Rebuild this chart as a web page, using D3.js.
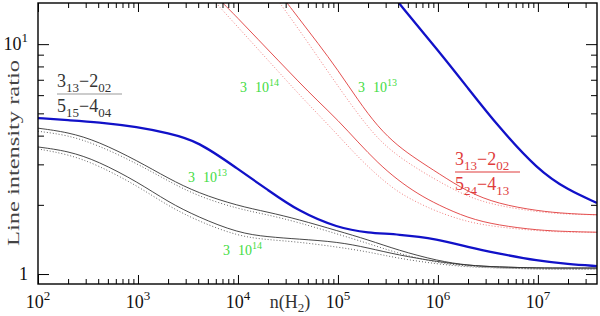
<!DOCTYPE html>
<html>
<head>
<meta charset="utf-8">
<script src="https://cdn.jsdelivr.net/npm/d3@7"></script>
<style>
  html, body { margin: 0; padding: 0; background: #fff; }
  svg { display: block; }
  text { font-family: "Liberation Serif", "DejaVu Serif", serif; }
</style>
</head>
<body>
<svg id="chart" width="600" height="316"></svg>
<script>
// log10 n(H2) grid the lower curves were read on
const densityGrid = [2.0, 2.3, 2.6, 3.0, 3.3, 3.6, 4.0, 4.3, 4.6, 5.0, 5.3, 5.6, 6.0, 6.3, 6.6, 7.0, 7.3, 7.59]

// 3(13)-2(02) / 5(15)-4(04)
const blueLow    = [4.77, 4.67, 4.58, 4.36, 4.10, 3.79, 2.86, 2.32, 1.88, 1.585, 1.51, 1.49, 1.42, 1.31, 1.23, 1.14, 1.105, 1.083]
const black13    = [4.31, 4.14, 3.78, 3.10, 2.61, 2.25, 1.98, 1.86, 1.73, 1.54, 1.41, 1.27, 1.14, 1.09, 1.073, 1.062, 1.062, 1.062]
const black13Dot = [4.18, 4.02, 3.64, 3.01, 2.54, 2.18, 1.92, 1.81, 1.68, 1.49, 1.36, 1.23, 1.116, 1.083, 1.062, 1.051, 1.051, 1.051]
const black14    = [3.57, 3.43, 3.10, 2.51, 2.06, 1.77, 1.51, 1.45, 1.42, 1.38, 1.30, 1.21, 1.13, 1.09, 1.073, 1.062, 1.062, 1.062]
const black14Dot = [3.50, 3.32, 2.98, 2.41, 1.98, 1.70, 1.46, 1.41, 1.38, 1.31, 1.25, 1.17, 1.105, 1.073, 1.062, 1.051, 1.051, 1.051]

// 3(13)-2(02) / 5(24)-4(13)
const blueHighGrid = [5.5, 5.6, 6.0, 6.3, 6.6, 7.0, 7.3, 7.59]
const blueHigh     = [17.5, 15.2, 9.42, 6.44, 4.40, 2.83, 2.32, 2.04]

const red14Grid = [3.8, 4.0, 4.2, 4.4, 4.6, 4.8, 5.0, 5.2, 5.4, 5.6, 5.8, 6.0, 6.3, 6.6, 7.0, 7.3, 7.59]
const red14     = [15.85, 12.97, 10.5, 8.52, 6.91, 5.65, 4.67, 3.75, 3.04, 2.56, 2.23, 2.00, 1.75, 1.63, 1.55, 1.53, 1.52]
const red14Dot  = [14.78, 11.86, 9.51, 7.63, 6.12, 4.96, 4.02, 3.23, 2.67, 2.27, 2.04, 1.86, 1.68, 1.60, 1.54, 1.52, 1.52]

const red13Grid = [4.4, 4.6, 4.8, 5.0, 5.2, 5.4, 5.6, 5.8, 6.0, 6.3, 6.6, 7.0, 7.3, 7.59]
const red13     = [17.0, 13.1, 10.1, 7.71, 5.71, 4.36, 3.60, 3.13, 2.75, 2.27, 2.02, 1.88, 1.83, 1.81]
const red13Dot  = [15.5, 11.74, 8.78, 6.57, 4.96, 3.86, 3.26, 2.86, 2.54, 2.16, 1.98, 1.86, 1.82, 1.81]

// tick labels
const xTickExponents = ['2', '3', '4', '5', '6', '7']
const yTickLabels = [{ value: 1, base: '1', exp: '' }, { value: 10, base: '10', exp: '1' }]

// column density labels: [base, exponent, log n, ratio]
const columnLabels = [
  ['3', '10', '14', 4.02, 6.18],
  ['3', '10', '13', 5.2, 6.18],
  ['3', '10', '13', 3.5, 2.51],
  ['3', '10', '14', 3.85, 1.21],
]

const svg = d3.select('#chart')
const x = d3.scaleLog([1e2, 3.9e7], [38, 597])
const y = d3.scaleLog([0.905, 15.1], [284, 3])

svg.append('defs').append('clipPath').attr('id', 'plot-clip')
  .append('rect')
  .attr('x', 38).attr('y', 3).attr('width', 559).attr('height', 281)

const plot = svg.append('g').attr('clip-path', 'url(#plot-clip)')

function drawCurve(grid, values, style) {
  const line = d3.line()
    .x(d => x(Math.pow(10, d[0])))
    .y(d => y(d[1]))
    .curve(d3.curveBasis)
  plot.append('path')
    .datum(grid.map((g, i) => [g, values[i]]))
    .attr('d', line)
    .attr('fill', 'none')
    .attr('stroke', style.color)
    .attr('stroke-width', style.width)
    .attr('stroke-dasharray', style.dash || null)
}

const blackSolid = { color: '#333', width: 0.9 }
const blackDot = { color: '#555', width: 0.9, dash: '1 2' }
const redSolid = { color: '#e03c3c', width: 0.9 }
const redDot = { color: '#ee7070', width: 0.9, dash: '1 2' }
const blue = { color: '#1111c8', width: 2.3 }

drawCurve(densityGrid, black13Dot, blackDot)
drawCurve(densityGrid, black14Dot, blackDot)
drawCurve(densityGrid, black13, blackSolid)
drawCurve(densityGrid, black14, blackSolid)
drawCurve(red14Grid, red14Dot, redDot)
drawCurve(red13Grid, red13Dot, redDot)
drawCurve(red14Grid, red14, redSolid)
drawCurve(red13Grid, red13, redSolid)
drawCurve(densityGrid, blueLow, blue)
drawCurve(blueHighGrid, blueHigh, blue)

// axes: inward ticks on all four sides
function drawAxis(axisFn, scale, transform, sign, prop, majorLen, minorLen) {
  const ticks = scale.ticks()
  const g = svg.append('g')
    .attr('transform', transform)
    .call(axisFn(scale).tickValues(ticks).tickFormat('').tickSizeOuter(0))
  g.select('.domain').remove()
  g.selectAll('.tick line')
    .attr('stroke', '#000')
    .attr(prop, d => {
      const major = Math.abs(Math.log10(d) - Math.round(Math.log10(d))) < 1e-9
      return sign * (major ? majorLen : minorLen)
    })
}
drawAxis(d3.axisBottom, x, 'translate(0,284)', -1, 'y2', 9, 5)
drawAxis(d3.axisTop, x, 'translate(0,3)', 1, 'y2', 9, 5)
drawAxis(d3.axisLeft, y, 'translate(38,0)', 1, 'x2', 11, 6)
drawAxis(d3.axisRight, y, 'translate(597,0)', -1, 'x2', 11, 6)

svg.append('rect')
  .attr('x', 38).attr('y', 3).attr('width', 559).attr('height', 281)
  .attr('fill', 'none').attr('stroke', '#000').attr('stroke-width', 1.4)

// tick labels
const xLabels = svg.append('g').attr('font-size', 18).attr('fill', '#111')
xTickExponents.forEach(e => {
  const t = xLabels.append('text')
    .attr('x', x(Math.pow(10, +e)))
    .attr('y', 308)
    .attr('text-anchor', 'middle')
  t.append('tspan').text('10')
  t.append('tspan').attr('dy', -8).attr('font-size', 13).text(e)
})

const yLabels = svg.append('g').attr('font-size', 18).attr('fill', '#111')
yTickLabels.forEach(l => {
  const t = yLabels.append('text')
    .attr('x', 28)
    .attr('y', y(l.value) + 6)
    .attr('text-anchor', 'end')
  t.append('tspan').text(l.base)
  if (l.exp) t.append('tspan').attr('dy', -8).attr('font-size', 13).text(l.exp)
})

// axis titles
const xTitle = svg.append('text')
  .attr('x', 290).attr('y', 308)
  .attr('text-anchor', 'middle')
  .attr('font-size', 18).attr('fill', '#333')
xTitle.append('tspan').text('n(H')
xTitle.append('tspan').attr('dy', 4).attr('font-size', 13).text('2')
xTitle.append('tspan').attr('dy', -4).text(')')

svg.append('text')
  .attr('transform', 'translate(19,153) rotate(-90)')
  .attr('text-anchor', 'middle')
  .attr('font-family', '"DejaVu Serif", serif')
  .attr('font-size', 16).attr('fill', '#444')
  .attr('textLength', 186).attr('lengthAdjust', 'spacingAndGlyphs')
  .text('Line intensity ratio')

// column density labels
columnLabels.forEach(([factor, base, exp, ln, r]) => {
  const t = svg.append('text')
    .attr('x', x(Math.pow(10, ln)))
    .attr('y', y(r))
    .attr('font-size', 14)
    .attr('fill', '#3fdc3f')
  t.append('tspan').text(factor)
  t.append('tspan').attr('dx', 8).text(base)
  t.append('tspan').attr('dy', -6).attr('font-size', 10).text(exp)
})

// transition fractions
function fraction(x0, barY, width, num, den, color, barColor) {
  const g = svg.append('g').attr('fill', color)
  const row = (parts, baseY) => {
    const t = g.append('text').attr('x', x0).attr('y', baseY)
    let sub = false
    parts.forEach(([txt, isSub]) => {
      const shift = isSub === sub ? 0 : (isSub ? 5 : -5)
      t.append('tspan')
        .attr('dy', shift)
        .attr('font-size', isSub ? 13 : 18)
        .text(txt)
      sub = isSub
    })
  }
  row(num, barY - 7)
  g.append('line')
    .attr('x1', x0).attr('x2', x0 + width)
    .attr('y1', barY).attr('y2', barY)
    .attr('stroke', barColor).attr('stroke-width', 1.2)
  row(den, barY + 18)
}

const numerator = [['3', false], ['13', true], ['\u2212', false], ['2', false], ['02', true]]
fraction(57, 94, 65, numerator,
  [['5', false], ['15', true], ['\u2212', false], ['4', false], ['04', true]],
  '#333', '#999')
fraction(455, 172, 65, numerator,
  [['5', false], ['24', true], ['\u2212', false], ['4', false], ['13', true]],
  '#e03c3c', '#e03c3c')
</script>
</body>
</html>
